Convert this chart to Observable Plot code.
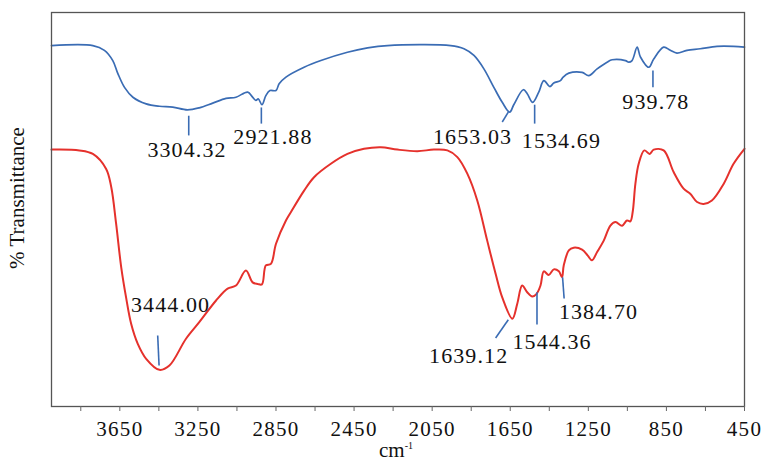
<!DOCTYPE html>
<html>
<head>
<meta charset="utf-8">
<script src="https://cdn.jsdelivr.net/npm/d3@7"></script>
<script src="https://cdn.jsdelivr.net/npm/@observablehq/plot@0.6"></script>
<style>
  html, body { margin: 0; padding: 0; background: #fff; }
  #chart { width: 761px; height: 463px; }
</style>
</head>
<body>
<div id="chart"></div>
<script>
// Wavenumbers (cm-1) and relative transmittance
const blueWn = [4000, 3788, 3729, 3686, 3660, 3626, 3583, 3515, 3447, 3379, 3304, 3243, 3174, 3106, 3055, 2995, 2970, 2953, 2941, 2922, 2902, 2881, 2850, 2834, 2799, 2706, 2620, 2484, 2381, 2279, 1955, 1887, 1836, 1785, 1734, 1691, 1653, 1632, 1583, 1563, 1535, 1504, 1478, 1447, 1427, 1393, 1379, 1350, 1282, 1248, 1205, 1154, 1128, 1060, 1043, 1026, 1000, 983, 940, 915, 864, 830, 796, 745, 677, 591, 506, 450];
const blueT  = [91.6, 91.6, 90.4, 87.8, 84.5, 81.0, 78.5, 76.8, 76.2, 76.0, 75.3, 75.8, 77.0, 78.2, 78.5, 79.8, 78.5, 77.7, 78.1, 76.6, 78.9, 80.2, 80.2, 81.9, 83.6, 86.1, 87.8, 89.9, 91.0, 91.6, 91.6, 90.8, 89.1, 85.7, 81.0, 77.2, 74.7, 76.6, 80.4, 79.4, 77.2, 79.8, 82.7, 81.2, 82.1, 82.7, 83.6, 84.6, 84.8, 84.0, 85.7, 87.4, 88.0, 87.8, 87.4, 87.8, 91.2, 88.7, 86.1, 88.2, 91.2, 90.4, 89.7, 90.4, 90.8, 91.4, 91.4, 91.2];

const redWn = [4000, 3857, 3788, 3720, 3694, 3669, 3643, 3618, 3592, 3558, 3515, 3447, 3396, 3311, 3243, 3157, 3098, 3055, 3004, 2970, 2944, 2922, 2902, 2876, 2850, 2799, 2774, 2706, 2655, 2569, 2484, 2399, 2313, 2228, 2126, 2041, 1972, 1921, 1870, 1819, 1768, 1725, 1691, 1639, 1614, 1589, 1563, 1537, 1515, 1495, 1478, 1453, 1427, 1401, 1385, 1376, 1350, 1325, 1282, 1253, 1231, 1205, 1171, 1137, 1111, 1077, 1052, 1035, 1023, 1009, 992, 963, 936, 915, 864, 813, 762, 728, 693, 660, 617, 557, 506, 450];
const redT  = [65.2, 65.0, 64.1, 60.3, 55.7, 46.4, 35.4, 27.7, 21.0, 15.9, 12.1, 9.3, 10.4, 17.2, 21.4, 26.9, 29.9, 30.7, 34.5, 31.5, 31.1, 31.0, 35.8, 36.2, 41.3, 47.2, 49.3, 54.8, 58.2, 61.6, 64.1, 65.4, 65.8, 65.2, 64.8, 65.2, 65.0, 63.3, 59.1, 52.3, 42.1, 33.7, 27.7, 22.3, 26.1, 30.7, 29.0, 27.9, 28.6, 30.7, 34.3, 33.4, 34.8, 34.3, 32.8, 35.8, 39.6, 40.3, 39.8, 38.3, 37.1, 39.2, 42.1, 45.9, 46.8, 45.9, 47.2, 47.0, 49.3, 56.5, 61.6, 65.0, 64.1, 65.2, 65.0, 59.5, 55.3, 54.0, 51.9, 51.4, 52.3, 56.5, 61.6, 65.4];

// Peak annotations: label text, label anchor, leader line ends (data units)
const peakLabels = ["3304.32", "2921.88", "1653.03", "1534.69", "939.78", "3444.00", "1639.12", "1544.36", "1384.70"];
const labelWn    = [3306, 2866, 1843, 1388, 904, 3390, 1863, 1436, 1198];
const labelT     = [65.0, 68.5, 68.5, 67.5, 77.4, 25.9, 12.9, 16.5, 24.1];
const leaderWn1  = [3297, 2925, 1660, 1525, 919, 3456, 1660, 1513, 1382];
const leaderT1   = [73.8, 75.9, 74.7, 76.6, 85.3, 18.0, 22.0, 29.0, 32.8];
const leaderWn2  = [3297, 2925, 1691, 1525, 919, 3449, 1725, 1513, 1374];
const leaderT2   = [68.8, 71.8, 72.2, 71.8, 81.0, 10.4, 17.4, 20.8, 27.4];

const xTicks = d3.range(3850, 449, -200);

const blue = blueWn.map((w, i) => ({w, t: blueT[i]}));
const red = redWn.map((w, i) => ({w, t: redT[i]}));
const labels = peakLabels.map((s, i) => ({s, w: labelWn[i], t: labelT[i]}));
const leaders = peakLabels.map((s, i) => ({x1: leaderWn1[i], y1: leaderT1[i], x2: leaderWn2[i], y2: leaderT2[i]}));

const BLUE = "#3a6cb4";
const RED = "#e5312c";
const SERIF = "Liberation Serif";

const chart = Plot.plot({
  width: 761,
  height: 463,
  marginLeft: 51,
  marginRight: 17,
  marginTop: 12,
  marginBottom: 57,
  style: {fontFamily: SERIF, background: "#fff", overflow: "visible"},
  x: {domain: [4000, 450], label: null},
  y: {domain: [0, 100], axis: null},
  marks: [
    Plot.line(red, {x: "w", y: "t", stroke: RED, strokeWidth: 2, curve: "catmull-rom"}),
    Plot.line(blue, {x: "w", y: "t", stroke: BLUE, strokeWidth: 1.7, curve: "catmull-rom"}),
    Plot.link(leaders, {x1: "x1", y1: "y1", x2: "x2", y2: "y2", stroke: BLUE, strokeWidth: 1.6}),
    Plot.text(labels, {x: "w", y: "t", text: "s", fontSize: 22, fontFamily: SERIF, fill: "#111", textAnchor: "middle"}),
    Plot.frame({stroke: "#555", strokeWidth: 1.3}),
    Plot.axisX({ticks: xTicks, tickSize: 5, stroke: "#666", tickFormat: d => ((3650 - d) % 400 === 0 ? String(d) : ""), fontSize: 21, fontFamily: SERIF, tickPadding: 10, fill: "#111"})
  ]
});
document.getElementById("chart").appendChild(chart);

const svg = d3.select(chart);
svg.selectAll("text").attr("font-family", SERIF).style("font-family", SERIF);
svg.selectAll("g[aria-label='x-axis tick label'] text, g[aria-label='x-axis tick label']")
  .attr("font-size", 21).style("font-size", "21px").style("letter-spacing", "1.3px");
svg.selectAll("g[aria-label='text'] text, g[aria-label='text']")
  .style("font-size", "22px").style("letter-spacing", "1.1px");

svg.append("text")
  .attr("transform", "translate(24,198) rotate(-90)")
  .attr("text-anchor", "middle")
  .attr("font-family", SERIF)
  .attr("font-size", 21)
  .attr("fill", "#111")
  .text("% Transmittance");
const xl = svg.append("text")
  .attr("x", 396).attr("y", 457)
  .attr("text-anchor", "middle")
  .attr("font-family", SERIF)
  .attr("font-size", 21)
  .attr("fill", "#111");
xl.append("tspan").text("cm");
xl.append("tspan").attr("font-size", 10).attr("dy", -8).text("-1");
</script>
</body>
</html>
